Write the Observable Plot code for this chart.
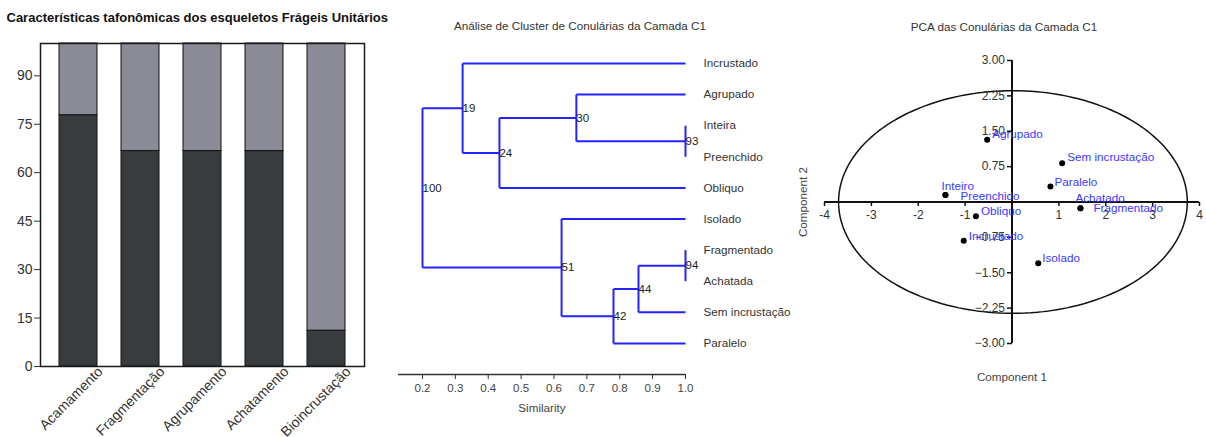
<!DOCTYPE html>
<html><head><meta charset="utf-8">
<script src="https://cdn.jsdelivr.net/npm/d3@7"></script>
<script src="https://cdn.jsdelivr.net/npm/@observablehq/plot@0.6"></script>
<style>
html,body{margin:0;padding:0;background:#fff;}
#wrap{position:relative;width:1206px;height:437px;overflow:hidden;}
#wrap > div{position:absolute;top:0;}
#wrap svg{overflow:visible;}
</style></head>
<body>
<div id="wrap">
  <div id="p1" style="left:0;width:400px"></div>
  <div id="p2" style="left:390px;width:410px"></div>
  <div id="p3" style="left:795px;width:411px"></div>
</div>
<script>
// ---------- Panel 1 data ----------
const barTitle = "Características tafonômicas dos esqueletos Frágeis Unitários";
const barCategories = ["Acamamento", "Fragmentação", "Agrupamento", "Achatamento", "Bioincrustação"];
const barPresent = [77.8, 66.7, 66.7, 66.7, 11.1];
const barAbsent = [22.2, 33.3, 33.3, 33.3, 88.9];
const barYTicks = [0, 15, 30, 45, 60, 75, 90];

// ---------- Panel 2 data ----------
const dendroTitle = "Análise de Cluster de Conulárias da Camada C1";
const dendroLeaves = ["Incrustado", "Agrupado", "Inteira", "Preenchido", "Obliquo", "Isolado", "Fragmentado", "Achatada", "Sem incrustação", "Paralelo"];
const leafSimilarity = 1.0;
const mergeIds = ["n93", "n94", "n30", "n44", "n24", "n42", "n19", "n51", "root"];
const mergeLeft = ["Inteira", "Fragmentado", "Agrupado", "n94", "n30", "n44", "Incrustado", "Isolado", "n19"];
const mergeRight = ["Preenchido", "Achatada", "n93", "Sem incrustação", "Obliquo", "Paralelo", "n24", "n42", "n51"];
const mergeSimilarity = [1.0, 1.0, 0.668, 0.857, 0.434, 0.781, 0.322, 0.623, 0.2];
const mergeSupport = [93, 94, 30, 44, 24, 42, 19, 51, 100];
const similarityTicks = [0.2, 0.3, 0.4, 0.5, 0.6, 0.7, 0.8, 0.9, 1.0];

// ---------- Panel 3 data ----------
const pcaTitle = "PCA das Conulárias da Camada C1";
const pcaLabels = ["Agrupado", "Sem incrustação", "Paralelo", "Inteiro", "Preenchido", "Achatado", "Fragmentado", "Obliquo", "Incrustado", "Isolado"];
const pcaComp1 = [-0.53, 1.07, 0.82, -1.42, -1.42, 1.46, 1.46, -0.77, -1.03, 0.56];
const pcaComp2 = [1.32, 0.82, 0.33, 0.15, 0.15, -0.13, -0.13, -0.30, -0.82, -1.30];
const pcaXTicks = [-4, -3, -2, -1, 1, 2, 3, 4];
const pcaYTicks = [-3, -2.25, -1.5, -0.75, 0.75, 1.5, 2.25, 3];
const ellipseParams = [{cx: 0.02, cy: 0.0, rx: 3.72, ry: 2.36}];

// label nudges (pixels) for the PCA labels, same order as pcaLabels
const labelNudgeX = [5, 5, 4, -4, 15, -5, 13, 5, 5, 4];
const labelNudgeY = [-5, -6, -4.5, -9, 1, -10, 0, -5, -4, -5];

const FONT = "'Liberation Sans', Arial, Helvetica, sans-serif";
const baseStyle = {fontFamily: FONT, overflow: "visible", background: "transparent", color: "#333"};

// ---------- Panel 1 ----------
const barRows = barCategories.flatMap((c, i) => [
  {cat: c, part: "Presente", v: barPresent[i]},
  {cat: c, part: "Ausente", v: barAbsent[i]}
]);
const p1 = Plot.plot({
  width: 400, height: 437,
  marginLeft: 40, marginRight: 36, marginTop: 43, marginBottom: 71,
  style: baseStyle,
  x: {domain: barCategories, paddingInner: 0.39, paddingOuter: 0.29, axis: null},
  y: {domain: [0, 100]},
  color: {domain: ["Presente", "Ausente"], range: ["#383c3f", "#8a8b96"]},
  marks: [
    Plot.barY(barRows, {x: "cat", y: "v", fill: "part", stroke: "#111", strokeWidth: 1}),
    Plot.frame({stroke: "#1a1a1a", strokeWidth: 1.5}),
    Plot.axisY({ticks: barYTicks, tickSize: 6, tickPadding: 2, fontSize: 14, stroke: "#333", fill: "#333", label: null}),
    Plot.text(barCategories, {x: d => d, frameAnchor: "bottom", rotate: -45, textAnchor: "end", lineAnchor: "top", dx: 18, dy: -1, fontSize: 14, fill: "#333"}),
    Plot.text([barTitle], {frameAnchor: "top-left", dx: -34, dy: -26, textAnchor: "start", lineAnchor: "middle", fontWeight: "bold", fontSize: 13, fill: "#111"})
  ]
});
document.getElementById("p1").append(p1);

// ---------- Panel 2 ----------
const leafIndex = new Map(dendroLeaves.map((d, i) => [d, i]));
const nodePos = new Map();
const posOf = name => leafIndex.has(name) ? {sim: leafSimilarity, y: leafIndex.get(name)} : nodePos.get(name);
const segments = [];
const nodes = [];
mergeIds.forEach((id, i) => {
  const a = posOf(mergeLeft[i]), b = posOf(mergeRight[i]);
  const s = mergeSimilarity[i];
  const y = (a.y + b.y) / 2;
  nodePos.set(id, {sim: s, y});
  nodes.push({sim: s, y, support: mergeSupport[i]});
  segments.push({x1: s, x2: s, y1: a.y, y2: b.y});
  segments.push({x1: s, x2: a.sim, y1: a.y, y2: a.y});
  segments.push({x1: s, x2: b.sim, y1: b.y, y2: b.y});
});
const p2 = Plot.plot({
  width: 410, height: 437,
  marginLeft: 8, marginRight: 115, marginTop: 63, marginBottom: 63,
  style: baseStyle,
  x: {domain: [0.127, 1.0]},
  y: {domain: [0, 10], reverse: true, axis: null},
  marks: [
    Plot.link(segments, {x1: "x1", x2: "x2", y1: "y1", y2: "y2", stroke: "#2323ff", strokeWidth: 2}),
    Plot.text(nodes, {x: "sim", y: "y", text: d => String(d.support), textAnchor: "start", fontSize: 11.5, fill: "#222"}),
    Plot.text(dendroLeaves, {x: () => leafSimilarity, y: (d, i) => i, text: d => d, textAnchor: "start", dx: 18, fontSize: 11.7, fill: "#333"}),
    Plot.ruleY([10], {stroke: "#333", strokeWidth: 1.5}),
    Plot.axisX({ticks: similarityTicks, tickFormat: d3.format(".1f"), tickSize: 5, tickPadding: 4, fontSize: 11.5, stroke: "#333", fill: "#444", label: null}),
    Plot.text(["Similarity"], {frameAnchor: "bottom", lineAnchor: "middle", dy: 34, fontSize: 11.7, fill: "#444"}),
    Plot.text([dendroTitle], {frameAnchor: "top", lineAnchor: "middle", dx: 38, dy: -37, fontSize: 11.7, fill: "#333"})
  ]
});
document.getElementById("p2").append(p2);

// ---------- Panel 3 ----------
const ellipsePts = ellipseParams.flatMap(e => d3.range(0, 361, 2).map(a => ({
  x: e.cx + e.rx * Math.cos(a * Math.PI / 180),
  y: e.cy + e.ry * Math.sin(a * Math.PI / 180)
})));
const tickDown = {draw(ctx) { ctx.moveTo(0, 0); ctx.lineTo(0, 4); }};
const tickLeft = {draw(ctx) { ctx.moveTo(0, 0); ctx.lineTo(-5, 0); }};
const pcaRows = pcaLabels.map((l, i) => ({label: l, x: pcaComp1[i], y: pcaComp2[i]}));
const labelMarks = pcaRows.map((r, i) => Plot.text([r], {
  x: "x", y: "y", text: "label", textAnchor: "start",
  dx: labelNudgeX[i], dy: labelNudgeY[i], fontSize: 11.7, fill: "#3a3aff"
}));
const p3 = Plot.plot({
  width: 411, height: 437,
  marginLeft: 29, marginRight: 7, marginTop: 60, marginBottom: 94,
  style: baseStyle,
  x: {domain: [-4, 4], axis: null},
  y: {domain: [-3, 3], axis: null},
  marks: [
    Plot.line(ellipsePts, {x: "x", y: "y", stroke: "#111", strokeWidth: 1.5}),
    Plot.ruleY([0], {stroke: "#111", strokeWidth: 2}),
    Plot.ruleX([0], {stroke: "#111", strokeWidth: 2}),
    Plot.dot(pcaXTicks, {x: d => d, y: () => 0, symbol: tickDown, fill: "none", stroke: "#111", strokeWidth: 1.5}),
    Plot.dot(pcaYTicks, {x: () => 0, y: d => d, symbol: tickLeft, fill: "none", stroke: "#111", strokeWidth: 1.5}),
    Plot.text(pcaXTicks, {x: d => d, y: () => 0, text: d => String(d), dy: 13.5, fontSize: 12, fill: "#333"}),
    Plot.text(pcaYTicks, {x: () => 0, y: d => d, text: d => d3.format(".2f")(d), textAnchor: "end", dx: -7, fontSize: 12, fill: "#333"}),
    Plot.dot(pcaRows, {x: "x", y: "y", r: 3, fill: "#000"}),
    ...labelMarks,
    Plot.text(["Component 1"], {frameAnchor: "bottom", lineAnchor: "middle", dy: 34, fontSize: 11.7, fill: "#444"}),
    Plot.text(["Component 2"], {frameAnchor: "left", textAnchor: "middle", lineAnchor: "middle", dx: -21, rotate: -90, fontSize: 11.7, fill: "#444"}),
    Plot.text([pcaTitle], {frameAnchor: "top", lineAnchor: "middle", dx: -8, dy: -33, fontSize: 11.7, fill: "#333"})
  ]
});
document.getElementById("p3").append(p3);
</script>
</body></html>
